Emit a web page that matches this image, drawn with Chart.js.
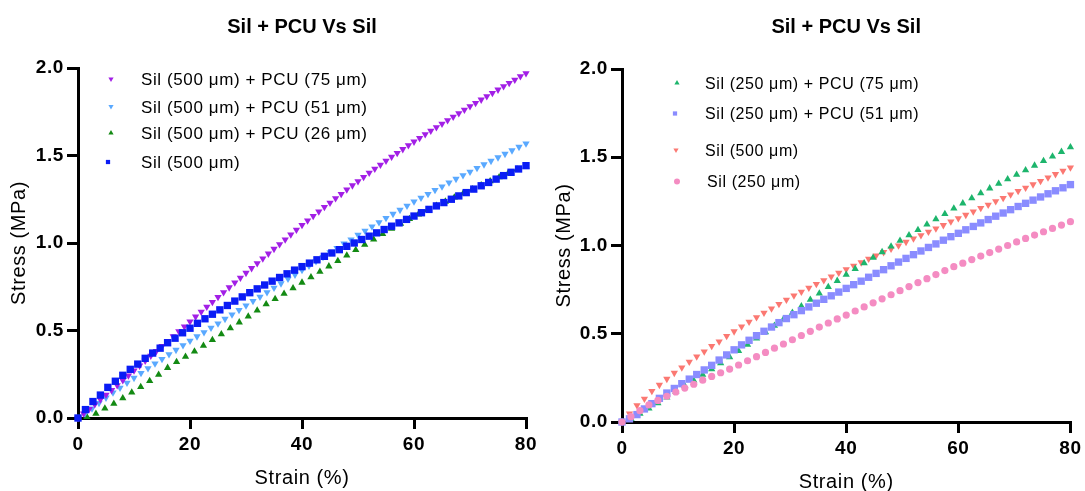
<!DOCTYPE html>
<html>
<head>
<meta charset="utf-8">
<title>Sil + PCU Vs Sil</title>
<script src="https://cdn.jsdelivr.net/npm/chart.js@4.4.1/dist/chart.umd.min.js"></script>
<style>
  body { margin: 0; background: #fff; }
  #wrap { position: relative; width: 1085px; height: 491px; background: #fff; }
  canvas { position: absolute; top: 0; }
  #left { left: 0; }
  #right { left: 542px; }
</style>
</head>
<body>
<div id="wrap">
  <canvas id="left" width="542" height="491"></canvas>
  <canvas id="right" width="543" height="491"></canvas>
</div>
<script>
// axis ticks
const xTicks = [0, 20, 40, 60, 80];
const yTicks = [0, 0.5, 1.0, 1.5, 2.0];
const yTickLabels = ["0.0", "0.5", "1.0", "1.5", "2.0"];

// Sil (500 um) + PCU (75 um)
const sil500Pcu75Strain = [0, 1, 2, 3, 4, 5, 6, 7, 8, 9, 10, 11, 12, 13, 14, 15, 16, 17, 18, 19, 20,
  21, 22, 23, 24, 25, 26, 27, 28, 29, 30, 31, 32, 33, 34, 35, 36, 37, 38, 39, 40,
  41, 42, 43, 44, 45, 46, 47, 48, 49, 50, 51, 52, 53, 54, 55, 56, 57, 58, 59, 60,
  61, 62, 63, 64, 65, 66, 67, 68, 69, 70, 71, 72, 73, 74, 75, 76, 77, 78, 79, 80];
const sil500Pcu75Stress = [0, 0.025, 0.051, 0.078, 0.105, 0.132, 0.159, 0.187, 0.215, 0.243, 0.271,
  0.299, 0.327, 0.355, 0.383, 0.411, 0.439, 0.467, 0.495, 0.523, 0.551,
  0.579, 0.607, 0.635, 0.663, 0.691, 0.718, 0.746, 0.774, 0.801, 0.829,
  0.856, 0.884, 0.911, 0.939, 0.966, 0.993, 1.020, 1.048, 1.075, 1.102,
  1.128, 1.154, 1.180, 1.205, 1.230, 1.255, 1.280, 1.305, 1.329, 1.353,
  1.377, 1.401, 1.424, 1.447, 1.470, 1.492, 1.514, 1.536, 1.558, 1.579,
  1.600, 1.621, 1.641, 1.661, 1.681, 1.701, 1.721, 1.741, 1.761, 1.781,
  1.800, 1.819, 1.838, 1.857, 1.876, 1.895, 1.914, 1.933, 1.952, 1.970];

// Sil (500 um) + PCU (51 um)
const sil500Pcu51Strain = [0, 1.25, 2.5, 3.75, 5, 6.25, 7.5, 8.75, 10, 11.25, 12.5, 13.75, 15, 16.25, 17.5, 18.75,
  20, 21.25, 22.5, 23.75, 25, 26.25, 27.5, 28.75, 30, 31.25, 32.5, 33.75, 35, 36.25, 37.5, 38.75,
  40, 41.25, 42.5, 43.75, 45, 46.25, 47.5, 48.75, 50, 51.25, 52.5, 53.75, 55, 56.25, 57.5, 58.75,
  60, 61.25, 62.5, 63.75, 65, 66.25, 67.5, 68.75, 70, 71.25, 72.5, 73.75, 75, 76.25, 77.5, 78.75, 80];
const sil500Pcu51Stress = [0, 0.025, 0.054, 0.085, 0.116, 0.145, 0.173, 0.201, 0.229, 0.257,
  0.284, 0.311, 0.337, 0.364, 0.389, 0.415, 0.441, 0.466, 0.490, 0.515,
  0.540, 0.566, 0.591, 0.617, 0.642, 0.668, 0.693, 0.718, 0.744, 0.769,
  0.795, 0.819, 0.845, 0.870, 0.895, 0.920, 0.947, 0.971, 0.996, 1.020,
  1.046, 1.070, 1.094, 1.118, 1.142, 1.166, 1.189, 1.213, 1.237, 1.258,
  1.280, 1.302, 1.323, 1.345, 1.366, 1.387, 1.407, 1.428, 1.449, 1.469,
  1.489, 1.509, 1.529, 1.549, 1.568];

// Sil (500 um) + PCU (26 um)
const sil500Pcu26Strain = [0, 1.6, 3.2, 4.8, 6.4, 8, 9.6, 11.2, 12.8, 14.4, 16, 17.6, 19.2, 20.8, 22.4, 24,
  25.6, 27.2, 28.8, 30.4, 32, 33.6, 35.2, 36.8, 38.4, 40, 41.6, 43.2, 44.8, 46.4, 48, 49.6,
  51.2, 52.8, 54.4, 56, 57.6, 59.2, 60.8, 62.4, 64, 65.6, 67.2, 68.8, 70.4, 72, 73.6, 75.2, 76.8, 78.4, 80];
const sil500Pcu26Stress = [0, 0.006, 0.025, 0.055, 0.082, 0.113, 0.146, 0.178, 0.212, 0.248,
  0.287, 0.320, 0.350, 0.381, 0.413, 0.446, 0.479, 0.513, 0.547, 0.581,
  0.615, 0.650, 0.680, 0.711, 0.742, 0.774, 0.805, 0.836, 0.867, 0.898,
  0.929, 0.960, 0.991, 1.021, 1.052, 1.082, 1.111, 1.138, 1.164, 1.189,
  1.213, 1.237, 1.260, 1.284, 1.307, 1.330, 1.353, 1.376, 1.398, 1.420, 1.438];

// Sil (500 um), same sample in both panels
const sil500Strain = [0, 1.33, 2.67, 4, 5.33, 6.67, 8, 9.33, 10.67, 12, 13.33, 14.67, 16, 17.33, 18.67, 20,
  21.33, 22.67, 24, 25.33, 26.67, 28, 29.33, 30.67, 32, 33.33, 34.67, 36, 37.33, 38.67, 40,
  41.33, 42.67, 44, 45.33, 46.67, 48, 49.33, 50.67, 52, 53.33, 54.67, 56, 57.33, 58.67, 60,
  61.33, 62.67, 64, 65.33, 66.67, 68, 69.33, 70.67, 72, 73.33, 74.67, 76, 77.33, 78.67, 80];
const sil500Stress = [0, 0.048, 0.094, 0.131, 0.175, 0.210, 0.244, 0.278, 0.308, 0.341,
  0.371, 0.399, 0.430, 0.456, 0.487, 0.513, 0.541, 0.567, 0.593, 0.618,
  0.643, 0.668, 0.692, 0.716, 0.738, 0.760, 0.782, 0.803, 0.824, 0.845,
  0.865, 0.885, 0.904, 0.924, 0.943, 0.962, 0.981, 1.000, 1.020, 1.039,
  1.058, 1.077, 1.096, 1.115, 1.135, 1.154, 1.173, 1.192, 1.212, 1.231,
  1.250, 1.269, 1.288, 1.308, 1.327, 1.346, 1.365, 1.385, 1.404, 1.423, 1.442];

// Sil (250 um) + PCU (75 um)
const sil250Pcu75Strain = [0, 1.6, 3.2, 4.8, 6.4, 8, 9.6, 11.2, 12.8, 14.4, 16, 17.6, 19.2, 20.8, 22.4, 24,
  25.6, 27.2, 28.8, 30.4, 32, 33.6, 35.2, 36.8, 38.4, 40, 41.6, 43.2, 44.8, 46.4, 48, 49.6,
  51.2, 52.8, 54.4, 56, 57.6, 59.2, 60.8, 62.4, 64, 65.6, 67.2, 68.8, 70.4, 72, 73.6, 75.2, 76.8, 78.4, 80];
const sil250Pcu75Stress = [0, 0.018, 0.048, 0.077, 0.107, 0.139, 0.172, 0.204, 0.236, 0.268,
  0.300, 0.333, 0.368, 0.403, 0.438, 0.473, 0.509, 0.546, 0.582, 0.619,
  0.656, 0.693, 0.729, 0.765, 0.800, 0.835, 0.868, 0.900, 0.931, 0.963,
  0.995, 1.027, 1.058, 1.088, 1.119, 1.149, 1.179, 1.210, 1.239, 1.268,
  1.297, 1.324, 1.350, 1.376, 1.401, 1.427, 1.453, 1.479, 1.505, 1.531, 1.557];

// Sil (250 um) + PCU (51 um)
const sil250Pcu51Strain = [0, 1.33, 2.67, 4, 5.33, 6.67, 8, 9.33, 10.67, 12, 13.33, 14.67, 16, 17.33, 18.67, 20,
  21.33, 22.67, 24, 25.33, 26.67, 28, 29.33, 30.67, 32, 33.33, 34.67, 36, 37.33, 38.67, 40,
  41.33, 42.67, 44, 45.33, 46.67, 48, 49.33, 50.67, 52, 53.33, 54.67, 56, 57.33, 58.67, 60,
  61.33, 62.67, 64, 65.33, 66.67, 68, 69.33, 70.67, 72, 73.33, 74.67, 76, 77.33, 78.67, 80];
const sil250Pcu51Stress = [0, 0.018, 0.042, 0.074, 0.104, 0.134, 0.164, 0.190, 0.217, 0.243,
  0.269, 0.295, 0.321, 0.351, 0.380, 0.409, 0.437, 0.463, 0.489, 0.514,
  0.538, 0.563, 0.586, 0.608, 0.631, 0.652, 0.673, 0.695, 0.715, 0.736,
  0.757, 0.778, 0.798, 0.820, 0.842, 0.863, 0.885, 0.906, 0.927, 0.948,
  0.969, 0.989, 1.009, 1.030, 1.050, 1.069, 1.089, 1.108, 1.128, 1.147,
  1.166, 1.184, 1.203, 1.221, 1.239, 1.257, 1.275, 1.293, 1.310, 1.327, 1.345];

// Sil (250 um)
const sil250Strain = [0, 1.6, 3.2, 4.8, 6.4, 8, 9.6, 11.2, 12.8, 14.4, 16, 17.6, 19.2, 20.8, 22.4, 24,
  25.6, 27.2, 28.8, 30.4, 32, 33.6, 35.2, 36.8, 38.4, 40, 41.6, 43.2, 44.8, 46.4, 48, 49.6,
  51.2, 52.8, 54.4, 56, 57.6, 59.2, 60.8, 62.4, 64, 65.6, 67.2, 68.8, 70.4, 72, 73.6, 75.2, 76.8, 78.4, 80];
const sil250Stress = [0, 0.030, 0.064, 0.097, 0.122, 0.146, 0.170, 0.192, 0.214, 0.237,
  0.258, 0.279, 0.300, 0.323, 0.347, 0.370, 0.394, 0.418, 0.442, 0.466,
  0.490, 0.514, 0.538, 0.561, 0.584, 0.606, 0.629, 0.652, 0.675, 0.698,
  0.721, 0.744, 0.767, 0.790, 0.812, 0.835, 0.858, 0.880, 0.900, 0.920,
  0.940, 0.960, 0.980, 1.000, 1.020, 1.040, 1.059, 1.078, 1.097, 1.116, 1.135];

const FONT = '"Liberation Sans", Arial, sans-serif';
const SPACING = "0.6px"; // the source text runs a bit wider than Arial

function pts(xs, ys) {
  return xs.map((x, i) => ({ x: x, y: ys[i] }));
}

function series(label, xs, ys, color, style, rot, r, order) {
  return {
    label: label,
    data: pts(xs, ys),
    showLine: false,
    backgroundColor: color,
    borderColor: color,
    borderWidth: 0,
    pointStyle: style,
    pointRotation: rot,
    pointRadius: r,
    pointHoverRadius: r,
    order: order,
    clip: false
  };
}

function drawMarker(ctx, style, rot, x, y, r, color) {
  ctx.fillStyle = color;
  ctx.beginPath();
  if (style === "triangle") {
    let a = rot * Math.PI / 180;
    for (let k = 0; k < 3; k++) {
      const px = x + Math.sin(a) * r, py = y - Math.cos(a) * r;
      if (k === 0) ctx.moveTo(px, py); else ctx.lineTo(px, py);
      a += 2 * Math.PI / 3;
    }
    ctx.closePath();
  } else if (style === "rect") {
    const s = r * Math.SQRT1_2;
    ctx.rect(x - s, y - s, 2 * s, 2 * s);
  } else {
    ctx.arc(x, y, r, 0, 2 * Math.PI);
  }
  ctx.fill();
}

// title + in-plot legend
function overlay(cfg) {
  return {
    id: "overlay",
    beforeDraw(chart) {
      chart.ctx.letterSpacing = SPACING;
    },
    afterDraw(chart) {
      const ctx = chart.ctx, area = chart.chartArea;
      ctx.save();
      ctx.letterSpacing = "0px";
      ctx.fillStyle = "#000";
      ctx.font = "bold 20px " + FONT;
      ctx.textAlign = "center";
      ctx.textBaseline = "middle";
      ctx.fillText(cfg.title, (area.left + area.right) / 2, cfg.titleY);
      ctx.letterSpacing = SPACING;
      ctx.textAlign = "left";
      cfg.items.forEach(it => {
        const ds = chart.data.datasets[it.ds];
        drawMarker(ctx, ds.pointStyle, ds.pointRotation, it.mx, it.y, cfg.markerR, ds.backgroundColor);
        ctx.fillStyle = "#000";
        ctx.font = cfg.legendSize + "px " + FONT;
        ctx.fillText(ds.label, it.tx, it.y + 1.5);
      });
      ctx.restore();
    }
  };
}

function scales(yWidth, xHeight, xTitleBottom, yTitleTop) {
  const tickFont = { family: FONT, size: 19, weight: "bold" };
  const titleFont = { family: FONT, size: 20, lineHeight: 1.2 };
  return {
    x: {
      type: "linear", min: 0, max: 80,
      afterBuildTicks: s => { s.ticks = xTicks.map(v => ({ value: v })); },
      ticks: { color: "#000", font: tickFont, padding: 4, maxRotation: 0, autoSkip: false,
        callback: v => String(v) },
      grid: { drawOnChartArea: false, drawTicks: true, tickLength: 11, tickWidth: 3, tickColor: "#000", color: "#000", lineWidth: 3 },
      border: { display: true, color: "#000", width: 3 },
      title: { display: true, text: "Strain (%)", color: "#000", font: titleFont, padding: { top: 0, bottom: xTitleBottom } },
      afterFit: s => { s.height = xHeight; }
    },
    y: {
      type: "linear", min: 0, max: 2,
      afterBuildTicks: s => { s.ticks = yTicks.map(v => ({ value: v })); },
      ticks: { color: "#000", font: tickFont, padding: 3, autoSkip: false,
        callback: (v, i) => yTickLabels[i] },
      grid: { drawOnChartArea: false, drawTicks: true, tickLength: 11, tickWidth: 3, tickColor: "#000", color: "#000", lineWidth: 3 },
      border: { display: true, color: "#000", width: 3 },
      title: { display: true, text: "Stress (MPa)", color: "#000", font: titleFont, padding: { top: yTitleTop, bottom: 0 } },
      afterFit: s => { s.width = yWidth; }
    }
  };
}

function baseOptions(pad, yWidth, xHeight, xTitleBottom, yTitleTop) {
  return {
    responsive: false,
    animation: false,
    events: [],
    layout: { padding: pad },
    plugins: { legend: { display: false }, tooltip: { enabled: false }, title: { display: false } },
    scales: scales(yWidth, xHeight, xTitleBottom, yTitleTop)
  };
}

// left panel
new Chart(document.getElementById("left"), {
  type: "scatter",
  data: {
    datasets: [
      series("Sil (500 \u03bcm) + PCU (75 \u03bcm)", sil500Pcu75Strain, sil500Pcu75Stress, "#a21fe6", "triangle", 180, 4.2, 1),
      series("Sil (500 \u03bcm) + PCU (51 \u03bcm)", sil500Pcu51Strain, sil500Pcu51Stress, "#5aa9ff", "triangle", 180, 4.2, 2),
      series("Sil (500 \u03bcm) + PCU (26 \u03bcm)", sil500Pcu26Strain, sil500Pcu26Stress, "#138a13", "triangle", 0, 4.2, 3),
      series("Sil (500 \u03bcm)", sil500Strain, sil500Stress, "#0a1cf5", "rect", 0, 5.2, 0)
    ]
  },
  options: baseOptions({ left: 0, right: 16, top: 68, bottom: 0 }, 78, 73, 1, 7),
  plugins: [overlay({
    title: "Sil + PCU Vs Sil", titleY: 27, legendSize: 17, markerR: 3,
    items: [
      { ds: 0, mx: 111, tx: 141, y: 79 },
      { ds: 1, mx: 111, tx: 141, y: 106.5 },
      { ds: 2, mx: 111, tx: 141, y: 133 },
      { ds: 3, mx: 108, tx: 141, y: 162 }
    ]
  })]
});

// right panel
new Chart(document.getElementById("right"), {
  type: "scatter",
  data: {
    datasets: [
      series("Sil (250 \u03bcm) + PCU (75 \u03bcm)", sil250Pcu75Strain, sil250Pcu75Stress, "#1db56c", "triangle", 0, 4.2, 2),
      series("Sil (250 \u03bcm) + PCU (51 \u03bcm)", sil250Pcu51Strain, sil250Pcu51Stress, "#8a8cff", "rect", 0, 5.2, 1),
      series("Sil (500 \u03bcm)", sil500Strain, sil500Stress, "#fb7872", "triangle", 180, 4.2, 3),
      series("Sil (250 \u03bcm)", sil250Strain, sil250Stress, "#f48cc2", "circle", 0, 3.6, 0)
    ]
  },
  options: baseOptions({ left: 0, right: 13, top: 69, bottom: 0 }, 80, 69, -3, 10),
  plugins: [overlay({
    title: "Sil + PCU Vs Sil", titleY: 27, legendSize: 16, markerR: 3,
    items: [
      { ds: 0, mx: 135, tx: 163, y: 83 },
      { ds: 1, mx: 133, tx: 163, y: 113.5 },
      { ds: 2, mx: 134, tx: 163, y: 150 },
      { ds: 3, mx: 135, tx: 165, y: 181.5 }
    ]
  })]
});
</script>
</body>
</html>
